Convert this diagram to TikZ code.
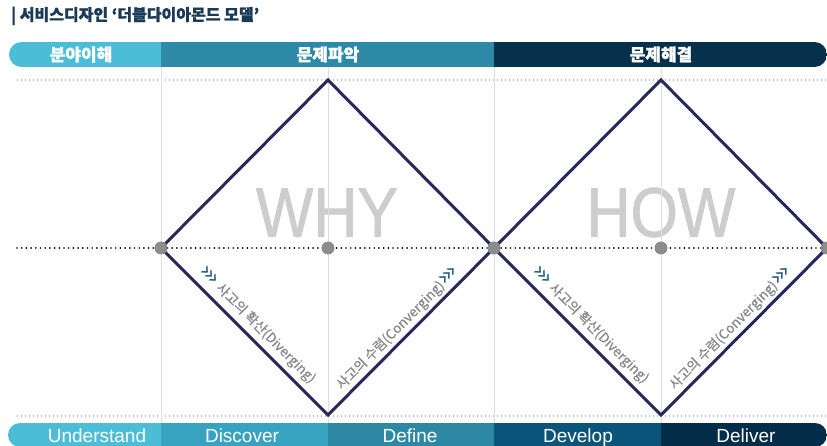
\documentclass[tikz,border=0pt]{standalone}
\usepackage{fontspec}
\setmainfont{Noto Sans CJK KR}
\newfontfamily\heavyfont[FakeBold=1.2]{Noto Sans CJK KR}
\newfontfamily\medfont[FakeBold=0.7]{Noto Sans CJK KR}
\newfontfamily\latinfont{Liberation Sans}
\newfontfamily\bigfont[FakeBold=1.2]{Liberation Sans}
\newfontfamily\symbolfont{DejaVu Sans}
\usetikzlibrary{calc}
\definecolor{titlecol}{HTML}{1B3A55}
\definecolor{topA}{HTML}{4BBDD6}
\definecolor{topB}{HTML}{2D89A5}
\definecolor{topC}{HTML}{06304C}
\definecolor{botA}{HTML}{4CBDD7}
\definecolor{botB}{HTML}{38A3C0}
\definecolor{botC}{HTML}{2D88A4}
\definecolor{botD}{HTML}{0A5579}
\definecolor{botE}{HTML}{042D4A}
\definecolor{diamondcol}{HTML}{27285C}
\definecolor{dotgrey}{HTML}{8C8C8C}
\definecolor{gridgrey}{HTML}{DEDEDE}
\definecolor{lightdots}{HTML}{BBBBBB}
\definecolor{labelgrey}{HTML}{8A8A8A}
\definecolor{biggrey}{HTML}{CDCDCD}
\definecolor{chevcol}{HTML}{1D5A7C}
\newcommand{\chev}{{\color{chevcol}\symbolfont\fontsize{22}{13}\selectfont\raisebox{-0.6pt}{›\kern-3pt›\kern-3pt›}}}
\tikzset{
  barlabel/.style={text=white, inner sep=0pt, font=\heavyfont\fontsize{17}{17}\selectfont\bfseries},
  stagelabel/.style={text=white, inner sep=0pt, anchor=base, font=\latinfont\fontsize{19}{19}\selectfont},
  diam/.style={draw=diamondcol, line width=3pt, line join=miter},
  vdot/.style={circle, fill=dotgrey, inner sep=0pt, minimum size=13pt},
  gridline/.style={draw=gridgrey, line width=0.8pt},
  thindots/.style={draw=lightdots, line width=1.1pt, dash pattern=on 1.1pt off 2.9pt},
  middots/.style={draw=black, line width=1.9pt, line cap=round, dash pattern=on 0pt off 4.7pt},
  edgelabel/.style={sloped, text=labelgrey, inner sep=0pt, font=\medfont\fontsize{13.5}{13.5}\selectfont},
  bigword/.style={text=biggrey, inner sep=0pt, font=\bigfont\fontsize{70}{70}\selectfont},
  titlestyle/.style={text=titlecol, inner sep=0pt, anchor=west, font=\heavyfont\fontsize{16}{16}\selectfont\bfseries}
}
\begin{document}
\begin{tikzpicture}[x=1pt,y=-1pt]
\useasboundingbox (0,0) rectangle (827,446);
\fill[white] (0,0) rectangle (827,446);

% title
\node[titlestyle] (title) at (11,16) {| 서비스디자인 ‘더블다이아몬드 모델’};

% key coordinates
\coordinate (L1) at (161,248);
\coordinate (C1) at (328,248);
\coordinate (M)  at (494,248);
\coordinate (C2) at (661,248);
\coordinate (R2) at (827,248);
\coordinate (T1) at (328,80);
\coordinate (B1) at (328,415);
\coordinate (T2) at (661,80);
\coordinate (B2) at (661,415);

% top bar
\begin{scope}
  \clip[rounded corners=12.5pt] (9,42) rectangle (827,67);
  \fill[topA] (0,42) rectangle (161,67);
  \fill[topB] (161,42) rectangle (494,67);
  \fill[topC] (494,42) rectangle (827,67);
\end{scope}
\node[barlabel] (p1) at (81,54.5) {분야이해};
\node[barlabel] (p2) at (328,54.5) {문제파악};
\node[barlabel] (p3) at (661,54.5) {문제해결};

% bottom bar
\begin{scope}
  \clip[rounded corners=12pt] (8,423) rectangle (827,447);
  \fill[botA] (0,423) rectangle (161,447);
  \fill[botB] (161,423) rectangle (328,447);
  \fill[botC] (328,423) rectangle (494,447);
  \fill[botD] (494,423) rectangle (661,447);
  \fill[botE] (661,423) rectangle (827,447);
\end{scope}
\node[stagelabel] (s1) at (97,442) {Understand};
\node[stagelabel] (s2) at (242,442) {Discover};
\node[stagelabel] (s3) at (410,442) {Define};
\node[stagelabel] (s4) at (578,442) {Develop};
\node[stagelabel] (s5) at (746,442) {Deliver};

% dotted guide lines
\draw[thindots] (17,80) -- (827,80);
\draw[thindots] (17,416) -- (827,416);

% big words
\node[bigword] (why) at (327,212.5) {\scalebox{0.87}[1]{WHY}};
\node[bigword] (how) at (661,212.5) {\scalebox{0.87}[1]{HOW}};

% vertical grid lines
\draw[gridline] (161,67) -- (161,423);
\draw[gridline] (328,67) -- (328,423);
\draw[gridline] (494,67) -- (494,423);
\draw[gridline] (661,67) -- (661,423);

% middle dotted line
\draw[middots] (17,248) -- (827,248);

% diamonds
\draw[diam] (L1) -- (T1) -- (M) -- (B1) -- cycle;
\draw[diam] (M) -- (T2) -- (R2) -- (B2) -- cycle;

% dots
\node[vdot] (d1) at (L1) {};
\node[vdot] (d2) at (C1) {};
\node[vdot] (d3) at (M) {};
\node[vdot] (d4) at (C2) {};
\node[vdot] (d5) at (R2) {};

% edge labels
\path (L1) -- node[edgelabel, pos=0.52, above=6pt] (e1) {\chev\ 사고의 확산(Diverging)} (B1);
\path (B1) -- node[edgelabel, pos=0.47, above=4pt] (e2) {사고의 수렴(Converging)\chev} (M);
\path (M) -- node[edgelabel, pos=0.52, above=6pt] (e3) {\chev\ 사고의 확산(Diverging)} (B2);
\path (B2) -- node[edgelabel, pos=0.47, above=4pt] (e4) {사고의 수렴(Converging)\chev} (R2);
\end{tikzpicture}
\end{document}
